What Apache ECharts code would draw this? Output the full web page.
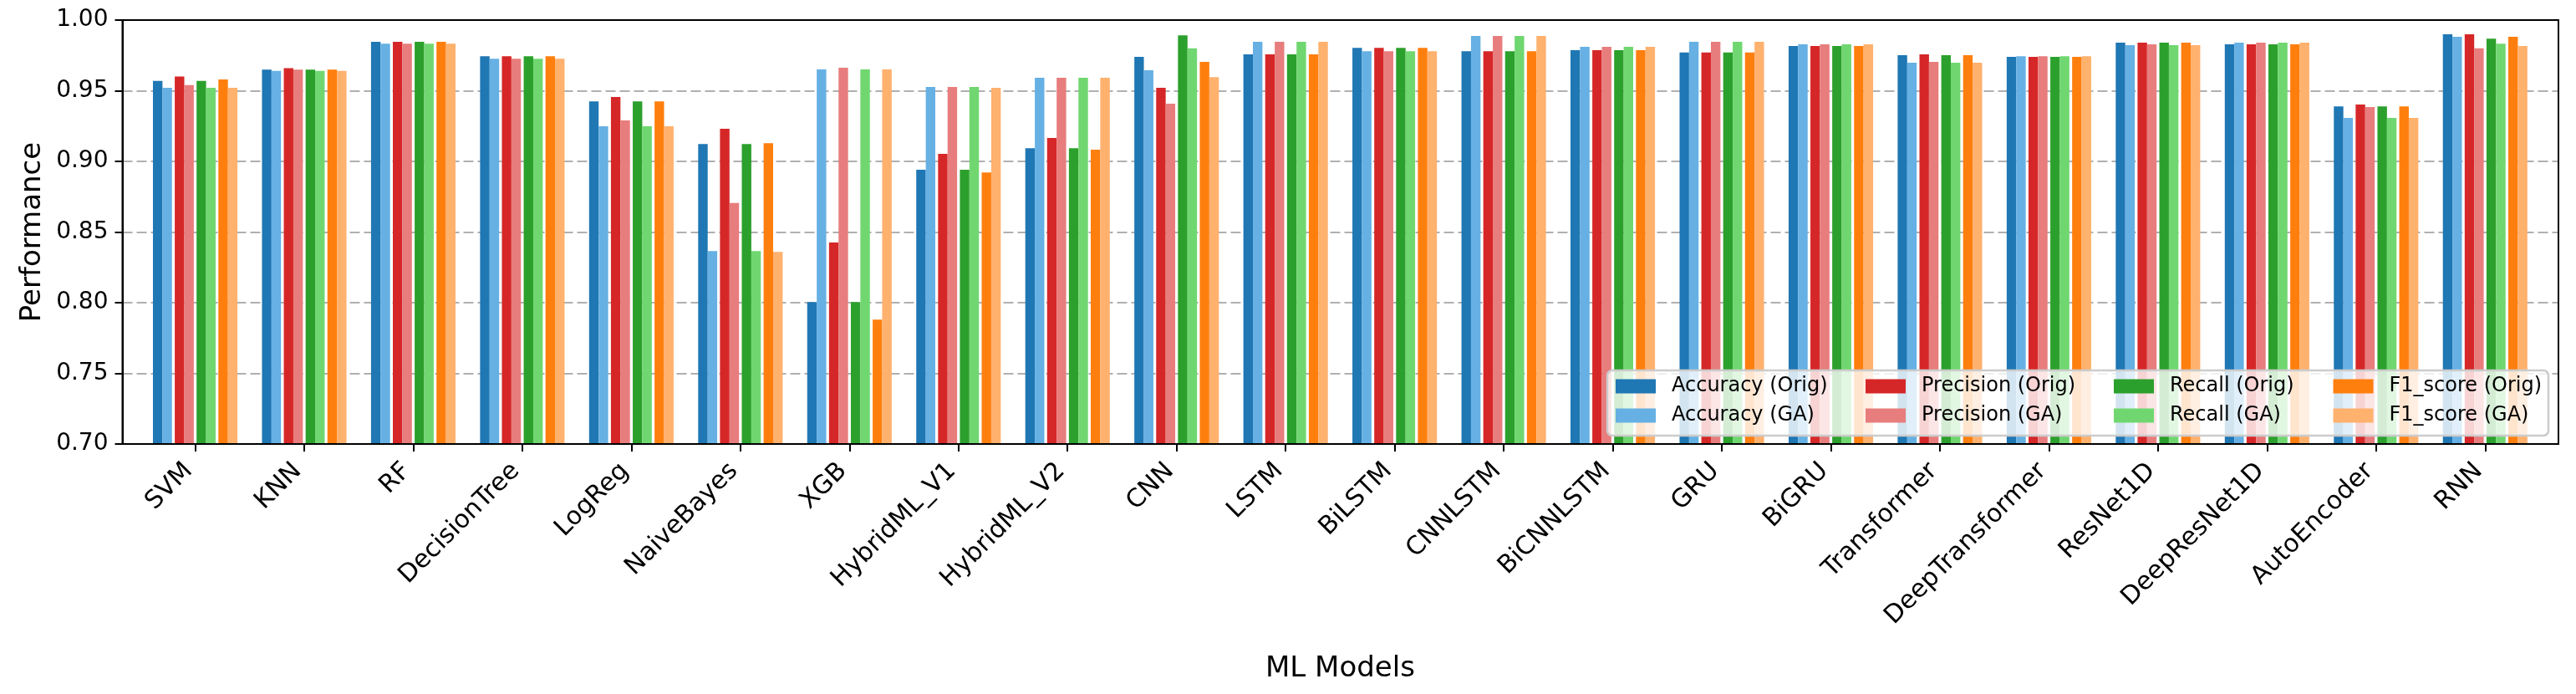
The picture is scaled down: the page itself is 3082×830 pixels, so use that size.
<!DOCTYPE html>
<html>
<head>
<meta charset="utf-8">
<script src="https://cdn.jsdelivr.net/npm/echarts@6/dist/echarts.min.js"></script>
<style>
html,body{margin:0;padding:0;background:#fff;}
#chart{width:3082px;height:830px;}
</style>
</head>
<body>
<div id="chart"></div>
<script>
const categories = ['SVM','KNN','RF','DecisionTree','LogReg','NaiveBayes','XGB','HybridML_V1','HybridML_V2','CNN','LSTM','BiLSTM','CNNLSTM','BiCNNLSTM','GRU','BiGRU','Transformer','DeepTransformer','ResNet1D','DeepResNet1D','AutoEncoder','RNN'];

const accuracyOrig  = [0.957,0.965,0.9846,0.9744,0.9425,0.9123,0.8005,0.8941,0.9093,0.974,0.9757,0.9803,0.978,0.9787,0.977,0.9816,0.9751,0.974,0.984,0.9829,0.9389,0.9899];
const accuracyGA    = [0.952,0.964,0.9833,0.9727,0.9248,0.8366,0.9651,0.9527,0.9592,0.9645,0.9846,0.978,0.9888,0.981,0.9846,0.9829,0.9698,0.9744,0.9822,0.984,0.9307,0.9882];
const precisionOrig = [0.960,0.966,0.9846,0.9744,0.9455,0.9231,0.8426,0.9053,0.9165,0.952,0.9757,0.9803,0.978,0.9787,0.977,0.9816,0.9757,0.974,0.984,0.9829,0.9402,0.9899];
const precisionGA   = [0.954,0.965,0.9833,0.9727,0.929,0.8705,0.9662,0.9527,0.9592,0.9408,0.9846,0.978,0.9888,0.981,0.9846,0.9829,0.9704,0.9744,0.9829,0.984,0.9385,0.980];
const recallOrig    = [0.957,0.965,0.9846,0.9744,0.9425,0.9123,0.8005,0.8941,0.9093,0.9892,0.9757,0.9803,0.978,0.9787,0.977,0.9816,0.9751,0.974,0.984,0.9829,0.9389,0.9869];
const recallGA      = [0.952,0.964,0.9833,0.9727,0.9248,0.8366,0.9651,0.9527,0.9592,0.980,0.9846,0.978,0.9888,0.981,0.9846,0.9829,0.9698,0.9744,0.9822,0.984,0.9307,0.9833];
const f1Orig        = [0.958,0.965,0.9846,0.9744,0.9425,0.9129,0.788,0.8922,0.9083,0.9704,0.9757,0.9803,0.978,0.9787,0.977,0.9816,0.9751,0.974,0.984,0.9829,0.9389,0.9882];
const f1GA          = [0.952,0.964,0.9833,0.9727,0.9248,0.836,0.9651,0.952,0.9592,0.9596,0.9846,0.978,0.9888,0.981,0.9846,0.9829,0.9698,0.9744,0.9822,0.984,0.9307,0.9816];

const seriesNames = ['Accuracy (Orig)','Accuracy (GA)','Precision (Orig)','Precision (GA)','Recall (Orig)','Recall (GA)','F1_score (Orig)','F1_score (GA)'];
const seriesValues = [accuracyOrig, accuracyGA, precisionOrig, precisionGA, recallOrig, recallGA, f1Orig, f1GA];
const seriesColors = ['#1f77b4','#66b0e4','#d62728','#e87d7d','#2ca02c','#70d770','#ff7f0e','#ffb16e'];

const FONT = 'DejaVu Sans';
const BAR_W = 11.4;
const PAIR_GAP = 3.3;

const series = [];
seriesNames.forEach((name, i) => {
  series.push({
    name: name, type: 'bar', xAxisIndex: 0, yAxisIndex: 0,
    data: seriesValues[i], barWidth: BAR_W, barGap: '0%',
    itemStyle: {color: seriesColors[i]}, silent: true, animation: false
  });
  if (i % 2 === 1 && i < seriesNames.length - 1) {
    series.push({
      name: 'gap' + i, type: 'bar', xAxisIndex: 0, yAxisIndex: 0,
      data: categories.map(() => '-'), barWidth: PAIR_GAP, barGap: '0%',
      itemStyle: {color: 'rgba(0,0,0,0)'}, silent: true, animation: false
    });
  }
});

const legendCols = [1933, 2232, 2529, 2791.5];
const legends = legendCols.map((x, c) => ({
  orient: 'vertical', left: x, top: 450, padding: 0,
  itemWidth: 48, itemHeight: 17, itemGap: 11, icon: 'rect', z: 6,
  selectedMode: false,
  data: [seriesNames[2*c], seriesNames[2*c+1]],
  textStyle: {fontFamily: FONT, fontSize: 24, color: '#000', lineHeight: 24, padding: [0,0,0,14]}
}));

const chart = echarts.init(document.getElementById('chart'), null, {renderer: 'canvas'});
chart.setOption({
  backgroundColor: '#fff',
  animation: false,
  grid: [
    {left: 168.3, right: 43.5, top: 24, bottom: 299, containLabel: false},
    {left: 146.5, right: 21, top: 24, bottom: 299, containLabel: false, show: true,
     borderColor: '#000', borderWidth: 2, backgroundColor: 'rgba(0,0,0,0)', z: 10}
  ],
  xAxis: [
    {type: 'category', gridIndex: 0, data: categories,
     axisLine: {show: false},
     axisTick: {show: true, alignWithLabel: true, length: 9, lineStyle: {color: '#000', width: 2}},
     axisLabel: {rotate: 45, margin: 20, padding: [0, 11, 0, 0], fontFamily: FONT, fontSize: 30, color: '#000', interval: 0},
     name: 'ML Models', nameLocation: 'middle', nameGap: 252,
     nameTextStyle: {fontFamily: FONT, fontSize: 34, color: '#000'},
     splitLine: {show: false}},
    {type: 'value', gridIndex: 1, show: false, min: 0, max: 1}
  ],
  yAxis: [
    {type: 'value', gridIndex: 0, min: 0.70, max: 1.00, interval: 0.05, show: false, splitLine: {show: false}},
    {type: 'value', gridIndex: 1, min: 0.70, max: 1.00, interval: 0.05,
     axisLine: {show: true, lineStyle: {color: '#000', width: 2}},
     axisTick: {show: true, length: 9, lineStyle: {color: '#000', width: 2}},
     axisLabel: {margin: 17, fontFamily: FONT, fontSize: 28, color: '#000', formatter: v => v.toFixed(2)},
     splitLine: {show: true, lineStyle: {color: '#b0b0b0', width: 2, type: [12, 5]}},
     name: 'Performance', nameLocation: 'middle', nameGap: 86,
     nameTextStyle: {fontFamily: FONT, fontSize: 34, color: '#000'}}
  ],
  legend: legends,
  graphic: [{
    type: 'rect', z: 5, silent: true,
    shape: {x: 1923, y: 443, width: 1126, height: 78, r: 6},
    style: {fill: 'rgba(255,255,255,0.8)', stroke: '#cccccc', lineWidth: 2.5}
  }],
  series: series
});
</script>
</body>
</html>
